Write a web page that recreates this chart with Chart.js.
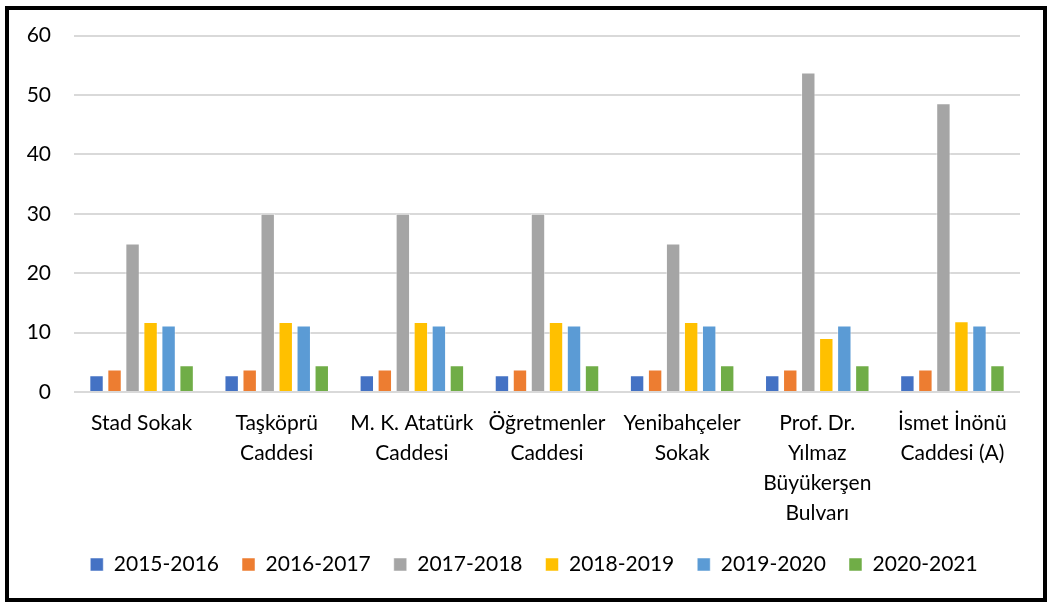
<!DOCTYPE html>
<html>
<head>
<meta charset="utf-8">
<script src="https://cdn.jsdelivr.net/npm/chart.js@4.4.1/dist/chart.umd.min.js"></script>
<style>
  html, body { margin: 0; padding: 0; background: #fff; }
  #wrap { position: relative; width: 1048px; height: 604px; }
  canvas { display: block; }
</style>
</head>
<body>
<div id="wrap"><canvas id="c" width="1048" height="604"></canvas></div>
<script>
// ---- data ----
const categories = [
  ['Stad Sokak'],
  ['Taşköprü', 'Caddesi'],
  ['M. K. Atatürk', 'Caddesi'],
  ['Öğretmenler', 'Caddesi'],
  ['Yenibahçeler', 'Sokak'],
  ['Prof. Dr.', 'Yılmaz', 'Büyükerşen', 'Bulvarı'],
  ['İsmet İnönü', 'Caddesi (A)']
];
const seriesNames = ['2015-2016', '2016-2017', '2017-2018', '2018-2019', '2019-2020', '2020-2021'];
const v2015 = [2.8, 2.8, 2.8, 2.8, 2.8, 2.8, 2.8];
const v2016 = [3.8, 3.8, 3.8, 3.8, 3.8, 3.8, 3.8];
const v2017 = [25, 30, 30, 30, 25, 53.8, 48.6];
const v2018 = [11.8, 11.8, 11.8, 11.8, 11.8, 9.1, 11.9];
const v2019 = [11.2, 11.2, 11.2, 11.2, 11.2, 11.2, 11.2];
const v2020 = [4.5, 4.5, 4.5, 4.5, 4.5, 4.5, 4.5];
const yTicks = [0, 10, 20, 30, 40, 50, 60];

const colors = ['#4472C4', '#ED7D31', '#A5A5A5', '#FFC000', '#5B9BD5', '#70AD47'];
const allValues = [v2015, v2016, v2017, v2018, v2019, v2020];

const FONT = 'Lato, "Open Sans", sans-serif';

const framePlugin = {
  id: 'frame',
  afterLayout(chart) {
    const l = chart.legend;
    if (l) { l.left += 24; l.right += 24; }
  },
  afterDraw(chart) {
    const ctx = chart.ctx;
    ctx.save();
    ctx.strokeStyle = '#000';
    ctx.lineWidth = 4;
    ctx.strokeRect(7, 8, 1038, 592);
    ctx.restore();
  }
};

new Chart(document.getElementById('c'), {
  type: 'bar',
  data: {
    labels: categories,
    datasets: seriesNames.map((n, i) => ({
      label: n,
      data: allValues[i],
      backgroundColor: colors[i],
      borderColor: 'rgba(255,255,255,0.5)',
      borderWidth: 1,
      categoryPercentage: 0.8,
      barPercentage: 0.8
    }))
  },
  options: {
    responsive: false,
    animation: false,
    devicePixelRatio: 1,
    layout: { padding: { left: 0, right: 28, top: 34, bottom: 19 } },
    plugins: {
      tooltip: { enabled: false },
      legend: {
        position: 'bottom',
        labels: {
          color: '#000',
          font: { family: FONT, size: 21 },
          boxWidth: 13,
          boxHeight: 13,
          padding: 23
        }
      }
    },
    scales: {
      x: {
        grid: { display: false, drawTicks: false },
        border: { display: false },
        ticks: {
          color: '#000',
          font: { family: FONT, size: 21, lineHeight: 1.43 },
          autoSkip: false,
          maxRotation: 0,
          minRotation: 0,
          padding: 16
        },
        afterFit(s) { s.height = 139; }
      },
      y: {
        min: 0,
        max: 60,
        afterBuildTicks(s) { s.ticks = yTicks.map(v => ({ value: v })); },
        grid: { color: '#D9D9D9', lineWidth: 2, drawTicks: false },
        border: { display: false },
        ticks: {
          color: '#000',
          font: { family: FONT, size: 21 },
          padding: 23
        },
        afterFit(s) { s.width = 74; }
      }
    }
  },
  plugins: [framePlugin]
});
</script>
</body>
</html>
